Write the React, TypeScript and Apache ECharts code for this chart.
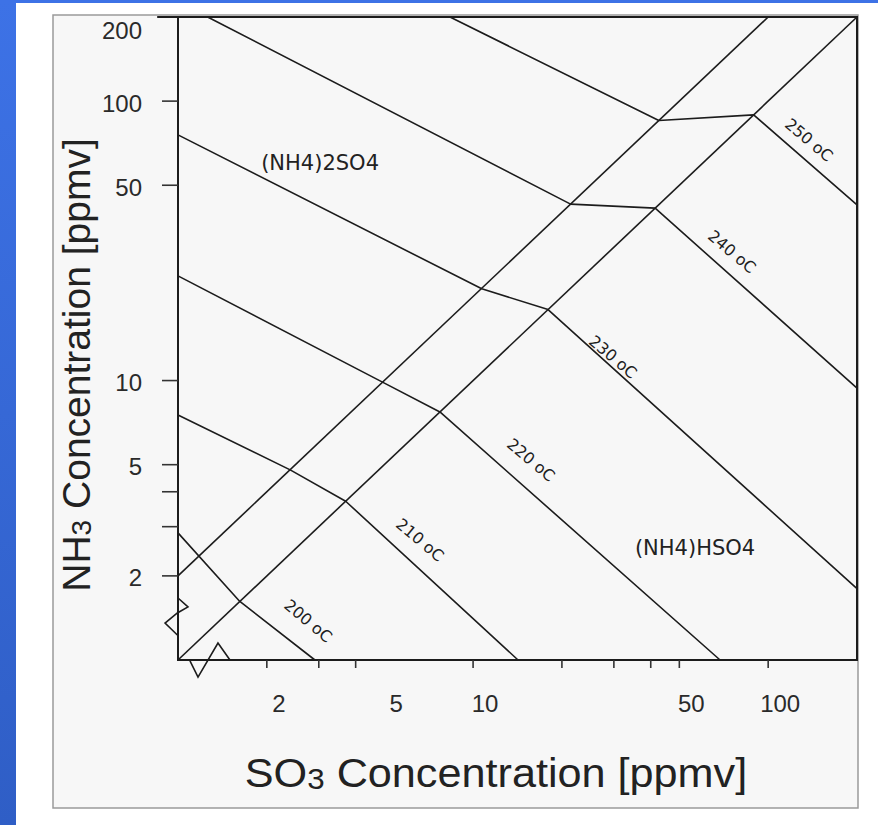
import React, { useEffect, useRef } from 'react';
import * as echarts from 'echarts';

// Axis ticks / labels (ppmv)
const xTickValues = [2, 3, 4, 10, 20, 30, 40, 50, 100];
const xLabelValues = [2, 5, 10, 50, 100];
const yTickValues = [100, 50, 10, 5, 4, 3, 2];
const yLabelValues = [200, 100, 50, 10, 5, 2];

// Boundary lines: NH3/SO3 = 2 and NH3/SO3 = 1  ([SO3, NH3])
const ratioTwoLine = [[1, 2], [100, 200]];
const ratioOneLine = [[1, 1], [200, 200]];

// Isotherms ([SO3, NH3])
const iso200 = [[1, 2.85], [1.62, 1.62], [2.91, 1]];
const iso210 = [[1, 7.53], [2.4, 4.79], [3.7, 3.7], [14.2, 1]];
const iso220 = [[1, 23.7], [4.95, 9.85], [7.72, 7.72], [68.7, 1]];
const iso230 = [[1, 75.7], [10.7, 21.3], [17.95, 17.95], [200, 1.8]];
const iso240 = [[1.26, 200], [21.4, 42.8], [41.4, 41.4], [200, 9.4]];
const iso250 = [[8.35, 200], [42.6, 85.2], [89.3, 89.3], [200, 42.5]];

// Axis break marks near origin
const breakLeft = [[1, 1.667], [1.081, 1.548], [0.995, 1.473], [0.904, 1.356], [0.995, 1.229]];
const breakBottom = [[1.098, 0.992], [1.169, 0.869], [1.366, 1.15], [1.5, 1]];
const topEdgeStub = [[0.85, 200], [1, 200]];

// Annotations
const isoLabelTexts = ['200 oC', '210 oC', '220 oC', '230 oC', '240 oC', '250 oC'];
const isoLabelPos = [[2.76, 1.38], [6.61, 2.69], [15.7, 5.2], [29.8, 12.15], [75.4, 28.9], [137.5, 72.6]];
const regionTexts = ['(NH4)2SO4', '(NH4)HSO4'];
const regionPos = [[3.03, 60.1], [56.5, 2.52]];

export default function App() {
  const ref = useRef<HTMLDivElement>(null);
  useEffect(() => {
    const chart = echarts.init(ref.current as HTMLDivElement, null, { renderer: 'svg' });
    const ink = '#1c1c1c';
    const mkLine = (data: number[][]) => ({
      type: 'line',
      data,
      symbol: 'none',
      clip: true,
      silent: true,
      z: 3,
      lineStyle: { color: ink, width: 1.6 },
    });
    const polySeries = (shapes: number[][][], width: number) => ({
      type: 'custom',
      coordinateSystem: 'cartesian2d',
      clip: false,
      silent: true,
      z: 3,
      data: shapes.map((s, i) => [s[0][0], s[0][1], i]),
      renderItem: (params: any, api: any) => {
        const pts = shapes[params.dataIndex].map((d) => api.coord(d));
        return {
          type: 'polyline',
          shape: { points: pts },
          style: { stroke: ink, lineWidth: width, fill: 'none' },
        };
      },
    });
    const tickFont = 'Liberation Sans, Arial, sans-serif';
    const rad = Math.PI / 180;

    chart.setOption({
      animation: false,
      backgroundColor: '#ffffff',
      grid: {
        left: 178,
        top: 17,
        width: 679,
        height: 643,
        show: true,
        borderColor: ink,
        borderWidth: 2,
        backgroundColor: 'transparent',
        containLabel: false,
        outerBoundsMode: 'none',
      },
      xAxis: {
        type: 'log',
        logBase: 10,
        min: 1,
        max: 200,
        axisLine: { show: false },
        axisTick: { show: false },
        axisLabel: { show: false },
        splitLine: { show: false },
        minorTick: { show: false },
      },
      yAxis: {
        type: 'log',
        logBase: 10,
        min: 1,
        max: 200,
        axisLine: { show: false },
        axisTick: { show: false },
        axisLabel: { show: false },
        splitLine: { show: false },
        minorTick: { show: false },
      },
      graphic: [
        {
          type: 'rect',
          z: -20,
          shape: { x: 0, y: 0, width: 16, height: 825 },
          style: {
            fill: new echarts.graphic.LinearGradient(0, 0, 0, 1, [
              { offset: 0, color: '#3d72e6' },
              { offset: 1, color: '#2f5ec6' },
            ]),
          },
        },
        { type: 'rect', z: -20, shape: { x: 0, y: 0, width: 878, height: 3 }, style: { fill: '#3d72e6' } },
        {
          type: 'rect',
          z: -15,
          shape: { x: 53, y: 15, width: 805, height: 793 },
          style: { fill: '#f7f7f7', stroke: '#9a9a9a', lineWidth: 1.5 },
        },
        {
          type: 'text',
          x: 496,
          y: 773,
          scaleX: 1.08,
          style: {
            text: '{a|SO}{b|3}{a| Concentration [ppmv]}',
            align: 'center',
            verticalAlign: 'middle',
            rich: {
              a: { fontSize: 40, fontFamily: tickFont, fill: '#222', color: '#222', verticalAlign: 'bottom' },
              b: { fontSize: 29, fontFamily: tickFont, fill: '#222', color: '#222', verticalAlign: 'bottom' },
            },
          },
        },
        {
          type: 'text',
          x: 76,
          y: 365,
          rotation: Math.PI / 2,
          style: {
            text: '{a|NH}{b|3}{a| Concentration [ppmv]}',
            align: 'center',
            verticalAlign: 'middle',
            rich: {
              a: { fontSize: 39, fontFamily: tickFont, fill: '#222', color: '#222', verticalAlign: 'bottom' },
              b: { fontSize: 28, fontFamily: tickFont, fill: '#222', color: '#222', verticalAlign: 'bottom' },
            },
          },
        },
      ],
      series: [
        mkLine(ratioTwoLine),
        mkLine(ratioOneLine),
        mkLine(iso200),
        mkLine(iso210),
        mkLine(iso220),
        mkLine(iso230),
        mkLine(iso240),
        mkLine(iso250),
        polySeries([breakLeft, breakBottom], 1.6),
        polySeries([topEdgeStub], 2),
        {
          type: 'custom',
          coordinateSystem: 'cartesian2d',
          clip: false,
          silent: true,
          z: 4,
          data: xTickValues.map((v) => [v, 1]),
          renderItem: (params: any, api: any) => {
            const p = api.coord([api.value(0), api.value(1)]);
            return {
              type: 'line',
              shape: { x1: p[0], y1: p[1], x2: p[0], y2: p[1] + 8 },
              style: { stroke: '#333', lineWidth: 1.6 },
            };
          },
        },
        {
          type: 'custom',
          coordinateSystem: 'cartesian2d',
          clip: false,
          silent: true,
          z: 4,
          data: yTickValues.map((v) => [1, v]),
          renderItem: (params: any, api: any) => {
            const p = api.coord([api.value(0), api.value(1)]);
            return {
              type: 'line',
              shape: { x1: p[0] - 16, y1: p[1], x2: p[0], y2: p[1] },
              style: { stroke: '#333', lineWidth: 1.6 },
            };
          },
        },
        {
          type: 'custom',
          coordinateSystem: 'cartesian2d',
          clip: false,
          silent: true,
          z: 4,
          data: xLabelValues.map((v) => [v, 1]),
          renderItem: (params: any, api: any) => {
            const p = api.coord([api.value(0), api.value(1)]);
            return {
              type: 'text',
              x: p[0] + 12,
              y: p[1] + 43,
              style: {
                text: String(xLabelValues[params.dataIndex]),
                fontSize: 24,
                fontFamily: tickFont,
                fill: '#2a2a2a',
                align: 'center',
                verticalAlign: 'middle',
              },
            };
          },
        },
        {
          type: 'custom',
          coordinateSystem: 'cartesian2d',
          clip: false,
          silent: true,
          z: 4,
          data: yLabelValues.map((v) => [1, v]),
          renderItem: (params: any, api: any) => {
            const p = api.coord([api.value(0), api.value(1)]);
            return {
              type: 'text',
              x: p[0] - 36,
              y: Math.max(p[1] + 2, 30),
              style: {
                text: String(yLabelValues[params.dataIndex]),
                fontSize: 24,
                fontFamily: tickFont,
                fill: '#2a2a2a',
                align: 'right',
                verticalAlign: 'middle',
              },
            };
          },
        },
        {
          type: 'custom',
          coordinateSystem: 'cartesian2d',
          clip: false,
          silent: true,
          z: 5,
          data: isoLabelPos,
          renderItem: (params: any, api: any) => {
            const p = api.coord([api.value(0), api.value(1)]);
            return {
              type: 'text',
              x: p[0],
              y: p[1],
              rotation: -40 * rad,
              style: {
                text: isoLabelTexts[params.dataIndex],
                fontSize: 16,
                fontFamily: 'DejaVu Sans, sans-serif',
                fill: '#1e1e1e',
                align: 'center',
                verticalAlign: 'middle',
              },
            };
          },
        },
        {
          type: 'custom',
          coordinateSystem: 'cartesian2d',
          clip: false,
          silent: true,
          z: 5,
          data: regionPos,
          renderItem: (params: any, api: any) => {
            const p = api.coord([api.value(0), api.value(1)]);
            return {
              type: 'text',
              x: p[0],
              y: p[1],
              style: {
                text: regionTexts[params.dataIndex],
                fontSize: 21,
                fontFamily: 'DejaVu Sans, sans-serif',
                fill: '#222',
                align: 'center',
                verticalAlign: 'middle',
              },
            };
          },
        },
      ],
    });
    return () => chart.dispose();
  }, []);
  return (
    <div
      ref={ref}
      style={{ position: 'fixed', left: 0, top: 0, width: 878, height: 825 }}
    />
  );
}
